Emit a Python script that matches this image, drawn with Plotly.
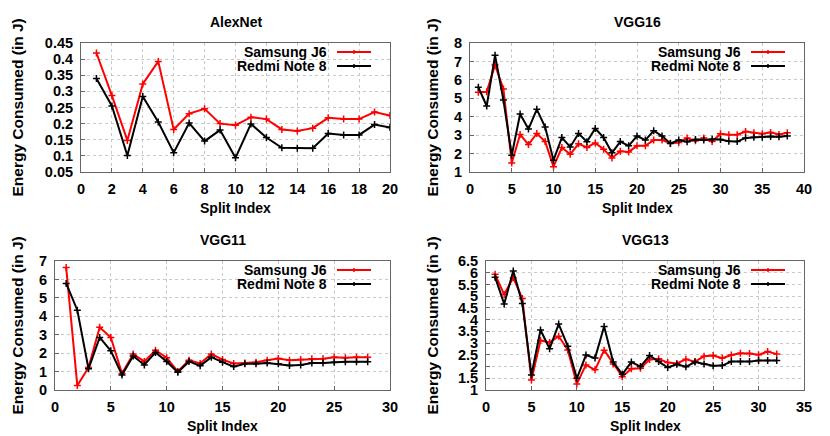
import plotly.graph_objects as go

# страница добавляет отступ 8px слева и сверху, фигура доходит до края окна
PAD = 8
W, H = 830 - PAD, 436 - PAD

# данные по моделям
alex_x = list(range(1, 21))
alex_samsung = [0.419, 0.287, 0.148, 0.323, 0.393, 0.182, 0.231, 0.246, 0.200, 0.195,
                0.220, 0.214, 0.182, 0.177, 0.186, 0.218, 0.214, 0.214, 0.236, 0.225]
alex_redmi = [0.340, 0.255, 0.101, 0.284, 0.205, 0.110, 0.202, 0.146, 0.180, 0.094,
              0.199, 0.157, 0.125, 0.124, 0.124, 0.169, 0.165, 0.165, 0.197, 0.188]

vgg16_x = list(range(1, 39))
vgg16_samsung = [5.33, 5.35, 6.80, 5.51, 1.49, 3.04, 2.49, 3.09, 2.65, 1.29,
                 2.33, 1.96, 2.53, 2.33, 2.58, 2.24, 1.76, 2.13, 2.09, 2.42,
                 2.42, 2.73, 2.73, 2.56, 2.60, 2.84, 2.69, 2.84, 2.65, 3.07,
                 3.02, 3.02, 3.20, 3.13, 3.07, 3.15, 3.04, 3.13]
vgg16_redmi = [5.60, 4.58, 7.33, 4.91, 1.91, 4.15, 3.33, 4.40, 3.44, 1.64,
               2.87, 2.36, 3.09, 2.64, 3.36, 2.87, 2.04, 2.65, 2.42, 2.95,
               2.73, 3.24, 2.95, 2.55, 2.73, 2.64, 2.76, 2.73, 2.78, 2.76,
               2.67, 2.65, 2.85, 2.89, 2.89, 2.93, 2.91, 2.95]

vgg11_x = list(range(1, 29))
vgg11_samsung = [6.65, 0.24, 1.22, 3.40, 2.85, 0.89, 1.95, 1.55, 2.16, 1.75,
                 1.00, 1.62, 1.44, 1.95, 1.65, 1.44, 1.47, 1.51, 1.62, 1.71,
                 1.62, 1.65, 1.69, 1.69, 1.78, 1.75, 1.78, 1.78]
vgg11_redmi = [5.78, 4.33, 1.15, 2.85, 2.13, 0.82, 1.84, 1.36, 2.04, 1.55,
               0.96, 1.55, 1.31, 1.78, 1.51, 1.27, 1.42, 1.42, 1.47, 1.42,
               1.33, 1.36, 1.47, 1.47, 1.51, 1.53, 1.53, 1.53]

vgg13_x = list(range(1, 33))
vgg13_samsung = [5.93, 5.07, 5.79, 4.90, 1.43, 3.11, 3.03, 3.29, 2.71, 1.26,
                 2.07, 1.86, 2.70, 2.11, 1.57, 1.91, 1.93, 2.30, 2.33, 2.17,
                 2.13, 2.31, 2.21, 2.44, 2.47, 2.36, 2.49, 2.57, 2.56, 2.50,
                 2.64, 2.53]
vgg13_redmi = [5.81, 4.67, 6.07, 4.69, 1.64, 3.56, 2.76, 3.81, 2.87, 1.50,
               2.49, 2.36, 3.71, 2.19, 1.67, 2.19, 2.00, 2.47, 2.21, 1.96,
               2.10, 1.99, 2.19, 2.11, 2.03, 2.04, 2.21, 2.21, 2.21, 2.26,
               2.26, 2.26]

# тики осей
alex_yticks = [0.05, 0.1, 0.15, 0.2, 0.25, 0.3, 0.35, 0.4, 0.45]
vgg16_yticks = [1, 2, 3, 4, 5, 6, 7, 8]
vgg11_yticks = [0, 1, 2, 3, 4, 5, 6, 7]
vgg13_yticks = [1, 1.5, 2, 2.5, 3, 3.5, 4, 4.5, 5, 5.5, 6, 6.5]

FONT = dict(family="Liberation Sans, Arial, sans-serif", size=14, color="black", weight="bold")
TICKFONT = dict(FONT, size=14.5)
YTITLEFONT = dict(FONT, size=15.5)


def px(x):
    # пиксели окна -> доля фигуры
    return (x - PAD) / W


def py(y):
    return 1 - (y - PAD) / H


# панели: (название, x, samsung, redmi, yticks, xmax, dtick, пиксели области)
panels = [
    ("AlexNet", alex_x, alex_samsung, alex_redmi, alex_yticks, 20, 2, (81, 390, 43, 172)),
    ("VGG16", vgg16_x, vgg16_samsung, vgg16_redmi, vgg16_yticks, 40, 5, (470, 804, 43, 172)),
    ("VGG11", vgg11_x, vgg11_samsung, vgg11_redmi, vgg11_yticks, 30, 5, (55, 390, 261, 390)),
    ("VGG13", vgg13_x, vgg13_samsung, vgg13_redmi, vgg13_yticks, 35, 5, (486, 804, 261, 390)),
]

fig = go.Figure()
annotations = []
shapes = []

for i, (name, xs, sam, red, yticks, xmax, dt, (x0, x1, y0, y1)) in enumerate(panels, start=1):
    xa = "x" if i == 1 else f"x{i}"
    ya = "y" if i == 1 else f"y{i}"
    for vals, color, label in [(sam, "#ff0000", "Samsung J6"), (red, "black", "Redmi Note 8")]:
        fig.add_trace(go.Scatter(
            x=xs, y=vals, xaxis=xa, yaxis=ya, mode="lines+markers", name=label,
            showlegend=False,
            line=dict(color=color, width=2),
            marker=dict(symbol="cross-thin", size=5, color=color, line=dict(width=1.5, color=color)),
        ))

    axis_common = dict(
        automargin=False,
        showline=True, linecolor="#666666", linewidth=1, mirror=True,
        showgrid=True, gridcolor="#c8c8c8", griddash="dot", gridwidth=1,
        zeroline=False, ticks="inside", ticklen=4, tickcolor="#666666",
        tickfont=TICKFONT,
    )
    fig.update_layout({
        ("xaxis" if i == 1 else f"xaxis{i}"): dict(
            axis_common, domain=[px(x0), px(x1)], anchor=ya,
            range=[0, xmax], dtick=dt, tick0=0, ticklabelstandoff=4,
        ),
        ("yaxis" if i == 1 else f"yaxis{i}"): dict(
            axis_common, domain=[py(y1), py(y0)], anchor=xa,
            range=[yticks[0], yticks[-1]],
            tickvals=yticks, ticktext=[f"{v:g}" for v in yticks],
            ticklabelstandoff=4,
        ),
    })

    cx = (x0 + x1) / 2
    annotations.append(dict(text=name, x=px(cx), y=py(y0 - 21), xref="paper", yref="paper",
                            showarrow=False, font=FONT, xanchor="center", yanchor="middle"))
    annotations.append(dict(text="Split Index", x=px(cx), y=py(y1 + 36), xref="paper", yref="paper",
                            showarrow=False, font=FONT, xanchor="center", yanchor="middle"))
    ylab_x = 17 if x0 < 415 else 432
    annotations.append(dict(text="Energy Consumed (in J)", x=px(ylab_x), y=py((y0 + y1) / 2),
                            xref="paper", yref="paper", showarrow=False, font=YTITLEFONT,
                            textangle=-90, xanchor="center", yanchor="middle"))

    # легенда: текст справа налево, затем образец линии
    for k, (label, color) in enumerate([("Samsung J6", "#ff0000"), ("Redmi Note 8", "black")]):
        ry = y0 + 9 + 14 * k
        annotations.append(dict(text=label, x=px(x1 - 61), y=py(ry), xref="paper", yref="paper",
                                showarrow=False, font=FONT, xanchor="right", yanchor="middle"))
        shapes.append(dict(type="line", xref="paper", yref="paper",
                           x0=px(x1 - 53), x1=px(x1 - 19), y0=py(ry), y1=py(ry),
                           line=dict(color=color, width=2)))
        shapes.append(dict(type="line", xref="paper", yref="paper",
                           x0=px(x1 - 36), x1=px(x1 - 36), y0=py(ry - 2), y1=py(ry + 2),
                           line=dict(color=color, width=1.5)))

fig.update_layout(
    template="none",
    width=W, height=H,
    margin=dict(l=0, r=0, t=0, b=0, pad=0),
    paper_bgcolor="white", plot_bgcolor="white",
    font=FONT,
    annotations=annotations,
    shapes=shapes,
)

fig.write_html("out.html")
